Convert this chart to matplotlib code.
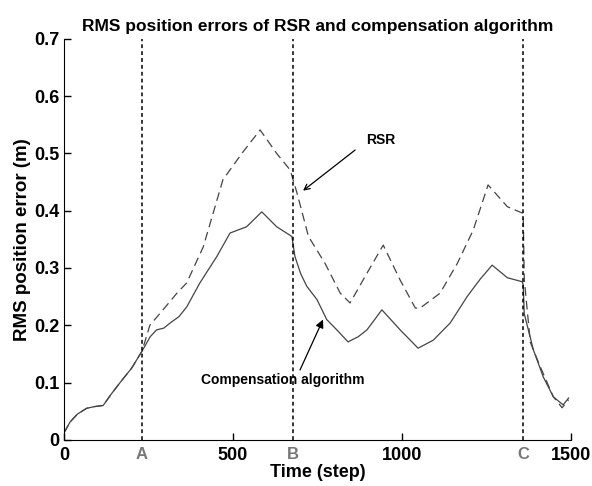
import matplotlib
matplotlib.use("Agg")
import matplotlib.pyplot as plt

# RMS error of compensation algorithm (solid)
comp_t = [0, 18, 40, 67, 90, 116, 140, 166, 200, 231, 255, 274, 295, 314, 340, 363, 402, 452,
          491, 540, 585, 629, 674, 683, 700, 718, 748, 777, 810, 840, 870, 896, 940, 994,
          1047, 1092, 1142, 1192, 1230, 1266, 1311, 1355, 1358, 1361, 1388, 1417, 1447,
          1476, 1492]
comp_v = [0.012, 0.031, 0.045, 0.055, 0.058, 0.06, 0.08, 0.1, 0.125, 0.155, 0.18, 0.192,
          0.195, 0.204, 0.215, 0.232, 0.274, 0.32, 0.361, 0.372, 0.398, 0.372, 0.355, 0.32,
          0.29, 0.268, 0.245, 0.21, 0.19, 0.171, 0.18, 0.192, 0.227, 0.192, 0.16, 0.174,
          0.204, 0.25, 0.28, 0.305, 0.283, 0.276, 0.27, 0.22, 0.157, 0.11, 0.075, 0.061,
          0.073]

# RMS error of RSR (dashed)
rsr_t = [0, 18, 40, 67, 90, 116, 140, 166, 200, 231, 254, 290, 334, 363, 412, 470, 526, 580,
         629, 669, 689, 723, 772, 817, 846, 896, 944, 994, 1039, 1053, 1112, 1163, 1210,
         1254, 1311, 1355, 1358, 1361, 1379, 1408, 1447, 1473, 1492]
rsr_v = [0.012, 0.031, 0.045, 0.055, 0.058, 0.06, 0.08, 0.1, 0.125, 0.155, 0.2, 0.225,
         0.256, 0.274, 0.337, 0.454, 0.5, 0.541, 0.5, 0.471, 0.431, 0.355, 0.308, 0.256,
         0.239, 0.291, 0.34, 0.279, 0.23, 0.23, 0.256, 0.308, 0.366, 0.445, 0.407, 0.396,
         0.39, 0.28, 0.17, 0.128, 0.075, 0.056, 0.07]

events = [231, 677, 1358]
event_names = ['A', 'B', 'C']

plt.rcParams['font.family'] = ['Liberation Sans', 'DejaVu Sans']
plt.rcParams['font.weight'] = 'bold'

fig = plt.figure(figsize=(5.92, 4.86), dpi=100)
ax = fig.add_axes([0.108, 0.095, 0.857, 0.825])

ax.plot(comp_t, comp_v, color='#444444', lw=0.9)
ax.plot(rsr_t, rsr_v, color='#444444', lw=0.9, dashes=(7, 4))

for t, n in zip(events, event_names):
    ax.axvline(t, color='black', lw=1.1, dashes=(2.5, 2))
    ax.text(t, -0.012, n, color='#777777', ha='center', va='top', fontsize=12,
            fontweight='bold')

# labels and their arrows
ax.text(938, 0.524, 'RSR', fontsize=10, fontweight='bold', ha='center', va='center')
ax.annotate('', xy=(707, 0.435), xytext=(861, 0.506),
            arrowprops=dict(arrowstyle='->', color='black', lw=0.9, shrinkA=0, shrinkB=0))
ax.text(648, 0.105, 'Compensation algorithm', fontsize=10, fontweight='bold',
        ha='center', va='center')
ax.annotate('', xy=(766, 0.21), xytext=(698, 0.122),
            arrowprops=dict(arrowstyle='-|>', color='black', lw=0.9, shrinkA=0, shrinkB=0,
                            mutation_scale=12))

ax.set_xlim(0, 1500)
ax.set_ylim(0, 0.7)
ax.set_xticks([0, 500, 1000, 1500])
ax.set_yticks([0, 0.1, 0.2, 0.3, 0.4, 0.5, 0.6, 0.7])
ax.set_yticklabels(['0', '0.1', '0.2', '0.3', '0.4', '0.5', '0.6', '0.7'])
ax.tick_params(direction='in', labelsize=13, length=5, width=1)
ax.tick_params(axis='x', pad=5)
ax.spines['top'].set_visible(False)
ax.spines['right'].set_visible(False)
ax.set_xlabel('Time (step)', fontsize=13, fontweight='bold', labelpad=0)
ax.set_ylabel('RMS position error (m)', fontsize=13.5, fontweight='bold', labelpad=2)
ax.set_title('RMS position errors of RSR and compensation algorithm', fontsize=12.5,
             fontweight='bold', pad=6)

fig.savefig('out.png', dpi=100)
